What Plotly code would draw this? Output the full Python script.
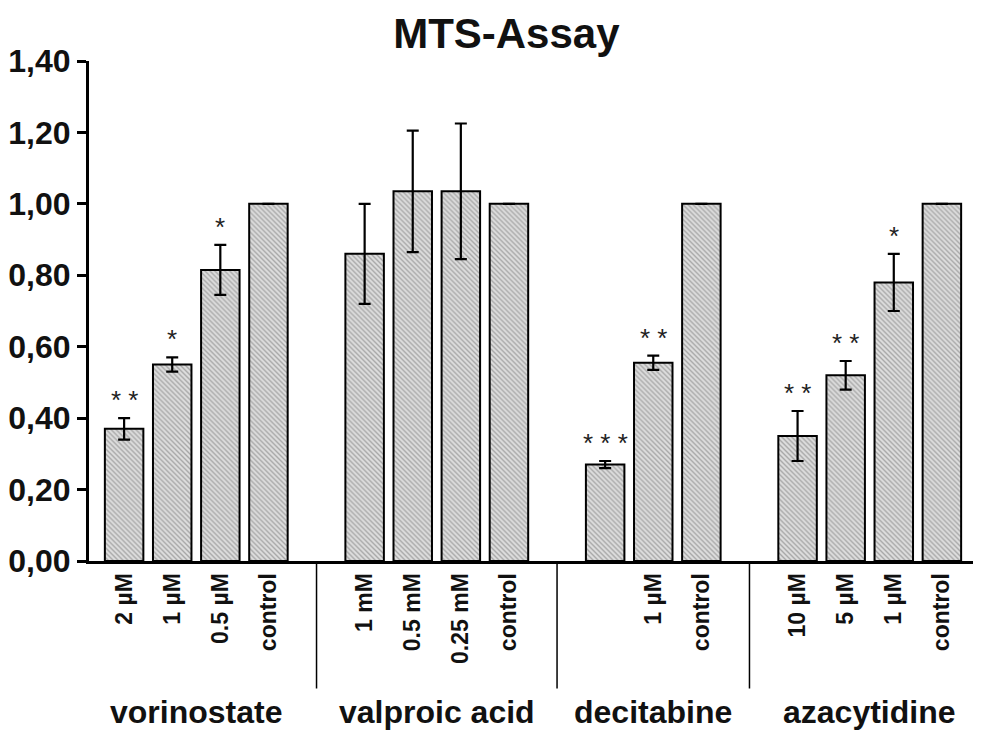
import plotly.graph_objects as go

groups = ["vorinostate", "valproic acid", "decitabine", "azacytidine"]
doses = [
    ["2 µM", "1 µM", "0.5 µM", "control"],
    ["1 mM", "0.5 mM", "0.25 mM", "control"],
    ["", "1 µM", "control"],
    ["10 µM", "5 µM", "1 µM", "control"],
]
values = [
    [0.37, 0.55, 0.815, 1.00],
    [0.86, 1.035, 1.035, 1.00],
    [0.27, 0.555, 1.00],
    [0.35, 0.52, 0.78, 1.00],
]
errors = [
    [0.03, 0.02, 0.07, 0],
    [0.14, 0.17, 0.19, 0],
    [0.01, 0.02, 0],
    [0.07, 0.04, 0.08, 0],
]
stars = [
    ["* *", "*", "*", ""],
    ["", "", "", ""],
    ["* * *", "* *", ""],
    ["* *", "* *", "*", ""],
]

FONT = "Liberation Sans"

# slot positions, one empty slot between groups
xs, ys, es, labels, marks, centers, seps = [], [], [], [], [], [], []
pos = 0
for g in range(len(groups)):
    start = pos
    for d, v, e, s in zip(doses[g], values[g], errors[g], stars[g]):
        xs.append(pos)
        ys.append(v)
        es.append(e)
        labels.append(d)
        marks.append(s)
        pos += 1
    centers.append((start + pos - 1) / 2)
    if g < len(groups) - 1:
        seps.append(pos)
        pos += 1

fig = go.Figure(go.Bar(
    x=xs, y=ys, width=0.8,
    marker=dict(color="#d4d4d4", line=dict(color="black", width=2),
                pattern=dict(shape="\\", size=3.5, solidity=0.4,
                             fgcolor="#707070", bgcolor="#dedede")),
    error_y=dict(type="data", array=es, color="black", thickness=2.2, width=6),
))

for x, y, e, s in zip(xs, ys, es, marks):
    if s:
        fig.add_annotation(x=x, y=y + e, text=s, showarrow=False, yanchor="bottom",
                           yshift=1, font=dict(size=26, color="#222", family=FONT))

for c, g in zip(centers, groups):
    fig.add_annotation(x=c, y=-0.302, xref="x", yref="paper", text="<b>" + g + "</b>",
                       showarrow=False, yanchor="middle",
                       font=dict(size=32, color="#111", family=FONT))

for s in seps:
    fig.add_shape(type="line", x0=s, x1=s, xref="x", y0=0, y1=-0.255, yref="paper",
                  line=dict(color="black", width=1.5))

fig.update_layout(
    width=981, height=735,
    margin=dict(l=81, r=12, t=53, b=182),
    paper_bgcolor="white", plot_bgcolor="white",
    separators=", ",
    showlegend=False,
    title=dict(text="<b>MTS-Assay</b>", x=0.508, xanchor="center", y=0.965,
               yanchor="middle", font=dict(size=42, color="#111", family=FONT)),
    font=dict(family=FONT, color="#111"),
)
fig.update_xaxes(range=[-0.73, pos - 1 + 0.73], tickvals=xs,
                 ticktext=["<b>" + t + "</b>" for t in labels], tickangle=-90,
                 tickfont=dict(size=23), showline=True, linecolor="black", linewidth=3,
                 ticks="", showgrid=False, zeroline=False, automargin=False)
fig.update_yaxes(range=[0, 1.4], dtick=0.2, tickformat=".2f", showline=True,
                 linecolor="black", linewidth=3, ticks="outside", ticklen=9,
                 tickwidth=3, tickcolor="black", tickfont=dict(size=32),
                 showgrid=False, zeroline=False, tickprefix="<b>", ticksuffix="</b>",
                 automargin=False)

fig.write_html("out.html")
